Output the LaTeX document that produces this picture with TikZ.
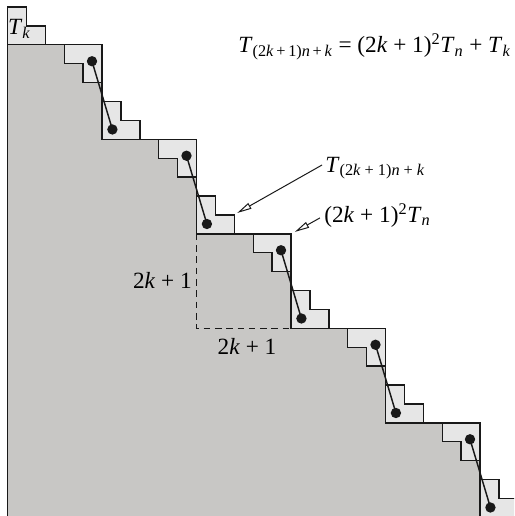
\documentclass[tikz,border=0pt]{standalone}
\usepackage{fontspec}
\setmainfont{Liberation Serif}
\usetikzlibrary{arrows.meta}
\definecolor{regiongray}{RGB}{200,199,197}
\definecolor{piecegray}{RGB}{230,230,230}
\definecolor{inkc}{RGB}{25,25,25}
\newcommand{\vi}[1]{\textit{#1}}
\begin{document}
\begin{tikzpicture}[x=0.5cm,y=-0.5cm,
  outline/.style={draw=inkc, line width=1.05pt, line join=miter},
  piece/.style={outline, fill=piecegray},
  dotnode/.style={circle, fill=inkc, inner sep=0pt, minimum size=7.8pt},
  lbl/.style={inner sep=0pt, font=\fontsize{17.5}{21}\selectfont},
  ptr/.style={draw=inkc, line width=0.75pt, -{Triangle[open, length=11pt, width=4.8pt]}},
  dumbbell/.style={draw=inkc, line width=1.1pt},
  sidemark/.style={draw=inkc, line width=1pt, dash pattern=on 5pt off 3.5pt}]
\useasboundingbox (-0.397,-0.37) rectangle (26.8,26.93);
\clip (-0.397,-0.37) rectangle (26.8,26.93);
% big gray region (fill only)
\fill[regiongray] (0,28) -- (0,2) -- (3,2) -- (3,3) -- (4,3) -- (4,4) -- (5,4) -- (5,7) -- (8,7)
  -- (8,8) -- (9,8) -- (9,9) -- (10,9) -- (10,12) -- (13,12)
  -- (13,13) -- (14,13) -- (14,14) -- (15,14) -- (15,17) -- (18,17)
  -- (18,18) -- (19,18) -- (19,19) -- (20,19) -- (20,22) -- (23,22)
  -- (23,23) -- (24,23) -- (24,24) -- (25,24) -- (25,27) -- (28,27)
  -- (28,28) -- cycle;
% edges of the gray region not shared with a light piece
\draw[outline] (0,28) -- (0,2) -- (3,2);
\foreach \i in {0,...,4}{
  \draw[outline, shift={(5*\i,5*\i)}] (5,4) -- (5,5);
  \draw[outline, shift={(5*\i,5*\i)}] (7,7) -- (8,7);
}
% upper light pieces
\foreach \i in {0,...,4}{
  \filldraw[piece, shift={(5*\i,5*\i)}] (3,2) -- (5,2) -- (5,4) -- (4,4) -- (4,3) -- (3,3) -- cycle;
}
% lower light pieces
\foreach \i in {-1,...,4}{
  \filldraw[piece, shift={(5*\i,5*\i)}] (5,5) -- (6,5) -- (6,6) -- (7,6) -- (7,7) -- (5,7) -- cycle;
}
% dashed square sides
\draw[sidemark] (10,12) -- (10,17) -- (15,17);
% dumbbells
\foreach \i in {0,...,4}{
  \node[dotnode] (u\i) at (4.47+5*\i, 2.87+5*\i) {};
  \node[dotnode] (l\i) at (5.55+5*\i, 6.48+5*\i) {};
  \draw[dumbbell] (u\i.center) -- (l\i.center);
}
% labels
\node[lbl, anchor=base west] (tk) at (0.02,1.48) {\vi{T}\textsubscript{\vi{k}}};
\node[lbl, anchor=base west] (eq) at (12.2,2.43) {\vi{T}\textsubscript{(2\vi{k}\,+\,1)\vi{n}\,+\,\vi{k}} = (2\vi{k} + 1)\textsuperscript{2}\vi{T}\textsubscript{\vi{n}} + \vi{T}\textsubscript{\vi{k}}};
\node[lbl, anchor=base west] (la) at (16.8,8.73) {\vi{T}\textsubscript{(2\vi{k} + 1)\vi{n} + \vi{k}}};
\node[lbl, anchor=base west] (lb) at (16.75,11.4) {(2\vi{k} + 1)\textsuperscript{2}\vi{T}\textsubscript{\vi{n}}};
\node[lbl, anchor=base east] (sl) at (9.76,14.87) {2\vi{k} + 1};
\node[lbl, anchor=base] (sb) at (12.67,18.4) {2\vi{k} + 1};
% pointers
\coordinate (ta) at (16.64,8.36);
\coordinate (ha) at (12.15,10.9);
\coordinate (tb) at (16.53,11.16);
\coordinate (hb) at (15.2,11.9);
\draw[ptr] (ta) -- (ha);
\draw[ptr] (tb) -- (hb);
\end{tikzpicture}
\end{document}
